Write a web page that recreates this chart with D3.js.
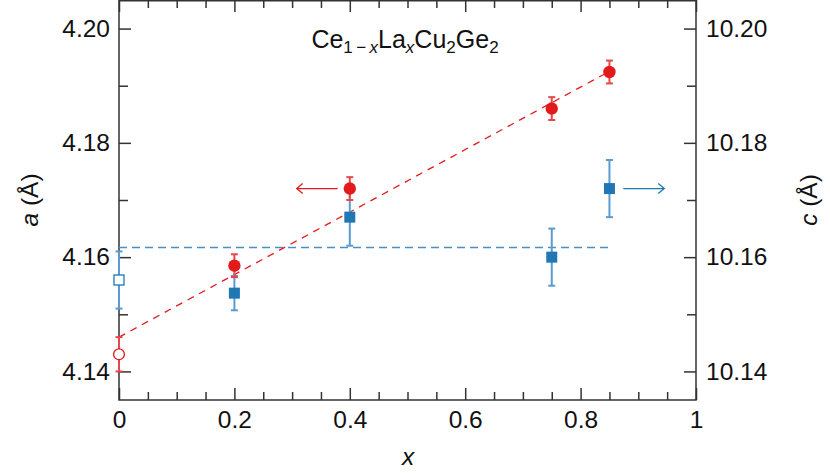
<!DOCTYPE html>
<html>
<head>
<meta charset="utf-8">
<script src="https://cdn.jsdelivr.net/npm/d3@7"></script>
<style>
  html, body { margin: 0; padding: 0; background: #fff; }
  svg { display: block; font-family: "Liberation Sans", Arial, Helvetica, sans-serif; }
</style>
</head>
<body>
<svg id="chart" width="830" height="473"></svg>
<script>
// ---------------- data ----------------
const xValues = [0, 0.2, 0.4, 0.75, 0.85];
const aValues = [4.143, 4.1585, 4.172, 4.186, 4.1924];
const aErrors = [0.003, 0.002, 0.002, 0.002, 0.002];
const cValues = [10.156, 10.1537, 10.167, 10.160, 10.172];
const cErrors = [0.005, 0.003, 0.005, 0.005, 0.005];
const openMarker = [true, false, false, false, false];
const aFitX = [0, 0.85];
const aFitY = [4.146, 4.1925];
const cMeanX = [0, 0.85];
const cMeanY = [10.1617, 10.1617];
const xTicks = [0, 0.2, 0.4, 0.6, 0.8, 1];
const xTickLabels = ["0", "0.2", "0.4", "0.6", "0.8", "1"];
const aTicks = [4.14, 4.16, 4.18, 4.20];
const aTickLabels = ["4.14", "4.16", "4.18", "4.20"];
const cTicks = [10.14, 10.16, 10.18, 10.20];
const cTickLabels = ["10.14", "10.16", "10.18", "10.20"];
// arrows: [x start, x end, y value] in data units
const aArrow = [0.379, 0.308, 4.172];
const cArrow = [0.874, 0.945, 10.172];

// ---------------- layout ----------------
const L = 119, R = 696, T = 0, B = 400;
const svg = d3.select("#chart");
const x = d3.scaleLinear().domain([0, 1]).range([L, R]);
const ya = d3.scaleLinear().domain([4.135, 4.205]).range([B, T]);
const yc = d3.scaleLinear().domain([10.135, 10.205]).range([B, T]);

const red = "#e31a1c", redErr = "#e6474c";
const blue = "#1f77b4", blueErr = "#5a9bd0";
const axisCol = "#333";
const fs = 24.5;

const xMinor = d3.range(0, 1.0001, 0.05).filter(v => Math.abs(v * 5 - Math.round(v * 5)) > 1e-6);
const aMinor = [4.15, 4.17, 4.19];
const cMinor = [10.15, 10.17, 10.19];

function styleAxis(g) {
  g.select(".domain").remove();
  g.selectAll("line").attr("stroke", axisCol).attr("stroke-width", 1.5);
  g.selectAll("text").attr("font-size", fs).attr("fill", "#111").attr("font-family", "Liberation Sans, Arial, sans-serif");
}

// bottom
svg.append("g").attr("transform", `translate(0,${B})`)
  .call(d3.axisBottom(x).tickValues(xTicks).tickFormat((d, i) => xTickLabels[i]).tickSizeInner(-12).tickSizeOuter(0).tickPadding(11))
  .call(styleAxis);
svg.append("g").attr("transform", `translate(0,${B})`)
  .call(d3.axisBottom(x).tickValues(xMinor).tickFormat("").tickSizeInner(-8).tickSizeOuter(0))
  .call(styleAxis);
// top
svg.append("g").attr("transform", `translate(0,${T})`)
  .call(d3.axisTop(x).tickValues(xTicks).tickFormat("").tickSizeInner(-12).tickSizeOuter(0))
  .call(styleAxis);
svg.append("g").attr("transform", `translate(0,${T})`)
  .call(d3.axisTop(x).tickValues(xMinor).tickFormat("").tickSizeInner(-8).tickSizeOuter(0))
  .call(styleAxis);
// left
svg.append("g").attr("transform", `translate(${L},0)`)
  .call(d3.axisLeft(ya).tickValues(aTicks).tickFormat((d, i) => aTickLabels[i]).tickSizeInner(-12).tickSizeOuter(0).tickPadding(9))
  .call(styleAxis);
svg.append("g").attr("transform", `translate(${L},0)`)
  .call(d3.axisLeft(ya).tickValues(aMinor).tickFormat("").tickSizeInner(-9).tickSizeOuter(0))
  .call(styleAxis);
// right
svg.append("g").attr("transform", `translate(${R},0)`)
  .call(d3.axisRight(yc).tickValues(cTicks).tickFormat((d, i) => cTickLabels[i]).tickSizeInner(-12).tickSizeOuter(0).tickPadding(10))
  .call(styleAxis);
svg.append("g").attr("transform", `translate(${R},0)`)
  .call(d3.axisRight(yc).tickValues(cMinor).tickFormat("").tickSizeInner(-9).tickSizeOuter(0))
  .call(styleAxis);

// frame
svg.append("rect").attr("x", L).attr("y", T + 0.75).attr("width", R - L).attr("height", B - T - 0.75)
  .attr("fill", "none").attr("stroke", axisCol).attr("stroke-width", 1.5);

// fit lines
const line = (ys) => d3.line().x(d => x(d[0])).y(d => ys(d[1]));
svg.append("path").datum(cMeanX.map((v, i) => [v, cMeanY[i]]))
  .attr("d", line(yc)).attr("fill", "none").attr("stroke", "#4a8fc6").attr("stroke-width", 1.6).attr("stroke-dasharray", "8,5");
svg.append("path").datum(aFitX.map((v, i) => [v, aFitY[i]]))
  .attr("d", line(ya)).attr("fill", "none").attr("stroke", red).attr("stroke-width", 1.3).attr("stroke-dasharray", "7,6");

// error bars
function errBars(vals, errs, ys, col) {
  const g = svg.append("g").attr("stroke", col).attr("stroke-width", 2).attr("fill", "none");
  xValues.forEach((xv, i) => {
    const px = x(xv), y1 = ys(vals[i] + errs[i]), y2 = ys(vals[i] - errs[i]);
    g.append("line").attr("x1", px).attr("x2", px).attr("y1", y1).attr("y2", y2);
    g.append("line").attr("x1", px - 3.5).attr("x2", px + 3.5).attr("y1", y1).attr("y2", y1);
    g.append("line").attr("x1", px - 3.5).attr("x2", px + 3.5).attr("y1", y2).attr("y2", y2);
  });
}
errBars(cValues, cErrors, yc, blueErr);
errBars(aValues, aErrors, ya, redErr);

// markers
svg.append("g").selectAll("rect").data(xValues).join("rect")
  .attr("x", (d, i) => x(d) - 5.5 + (openMarker[i] ? 0.5 : 0))
  .attr("y", (d, i) => yc(cValues[i]) - 5.5 + (openMarker[i] ? 0.5 : 0))
  .attr("width", (d, i) => openMarker[i] ? 10 : 11)
  .attr("height", (d, i) => openMarker[i] ? 10 : 11)
  .attr("fill", (d, i) => openMarker[i] ? "#fff" : blue)
  .attr("stroke", (d, i) => openMarker[i] ? blue : "none")
  .attr("stroke-width", 1.3);
svg.append("g").selectAll("circle").data(xValues).join("circle")
  .attr("cx", d => x(d))
  .attr("cy", (d, i) => ya(aValues[i]))
  .attr("r", (d, i) => openMarker[i] ? 5.4 : 6.2)
  .attr("fill", (d, i) => openMarker[i] ? "#fff" : red)
  .attr("stroke", (d, i) => openMarker[i] ? red : "none")
  .attr("stroke-width", 1.3);

// arrows
function arrow(spec, ys, col) {
  const x1 = x(spec[0]), x2 = x(spec[1]), yy = ys(spec[2]);
  const dir = x2 > x1 ? -1 : 1;
  const g = svg.append("g").attr("stroke", col).attr("stroke-width", 1.3).attr("fill", "none");
  g.append("line").attr("x1", x1).attr("x2", x2).attr("y1", yy).attr("y2", yy);
  g.append("path").attr("d", `M${x2 + dir * 6},${yy - 5}L${x2},${yy}L${x2 + dir * 6},${yy + 5}`);
}
arrow(aArrow, ya, red);
arrow(cArrow, yc, blue);

// title
const tfs = 25, sfs = 17;
const title = svg.append("text").attr("x", 405).attr("y", 48).attr("text-anchor", "middle")
  .attr("font-size", tfs).attr("fill", "#111");
title.append("tspan").text("Ce");
title.append("tspan").attr("font-size", sfs).attr("dy", 5).text("1\u2009\u2212\u2009");
title.append("tspan").attr("font-size", sfs).attr("font-style", "italic").text("x");
title.append("tspan").attr("dy", -5).text("La");
title.append("tspan").attr("font-size", sfs).attr("font-style", "italic").attr("dy", 5).text("x");
title.append("tspan").attr("dy", -5).text("Cu");
title.append("tspan").attr("font-size", sfs).attr("dy", 5).text("2");
title.append("tspan").attr("dy", -5).text("Ge");
title.append("tspan").attr("font-size", sfs).attr("dy", 5).text("2");

// axis labels
const aLab = svg.append("text").attr("transform", `translate(38,200) rotate(-90)`)
  .attr("text-anchor", "middle").attr("font-size", fs).attr("fill", "#111");
aLab.append("tspan").attr("font-style", "italic").text("a");
aLab.append("tspan").text(" (\u00C5)");
const cLab = svg.append("text").attr("transform", `translate(817,200) rotate(-90)`)
  .attr("text-anchor", "middle").attr("font-size", fs).attr("fill", "#111");
cLab.append("tspan").attr("font-style", "italic").text("c");
cLab.append("tspan").text(" (\u00C5)");
svg.append("text").attr("x", 408).attr("y", 465).attr("text-anchor", "middle")
  .attr("font-size", fs).attr("font-style", "italic").attr("fill", "#111").text("x");
</script>
</body>
</html>
